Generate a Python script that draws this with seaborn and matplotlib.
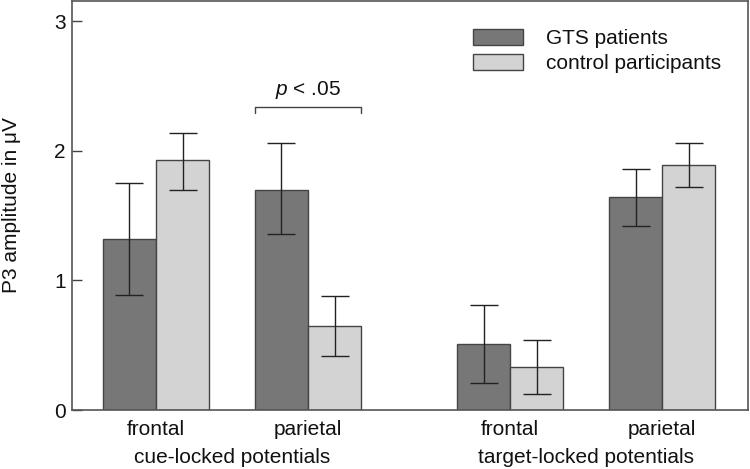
import numpy as np
import pandas as pd
import matplotlib
matplotlib.use("Agg")
import matplotlib.pyplot as plt
import seaborn as sns

# Daten
conditions = ["cue frontal", "cue parietal", "target frontal", "target parietal"]
tick_labels = ["frontal", "parietal", "frontal", "parietal"]
group_labels = ["cue-locked potentials", "target-locked potentials"]
groups = ["GTS patients", "control participants"]

gts_mean = [1.32, 1.70, 0.51, 1.64]
gts_lo = [0.89, 1.36, 0.21, 1.42]
gts_hi = [1.75, 2.06, 0.81, 1.86]

ctrl_mean = [1.93, 0.65, 0.33, 1.89]
ctrl_lo = [1.70, 0.42, 0.12, 1.72]
ctrl_hi = [2.14, 0.88, 0.54, 2.06]

sig_label = "$p$ < .05"
sig_height = 2.34

# Layout: x-Positionen der Bedingungen (Lücke zwischen den Blöcken)
x_pos = [0.0, 1.0, 2.33, 3.33]

sns.set_style("white")
plt.rcParams["font.family"] = ["Liberation Sans", "DejaVu Sans"]
plt.rcParams["font.size"] = 15
plt.rcParams["mathtext.fontset"] = "custom"
plt.rcParams["mathtext.it"] = "Liberation Sans:italic"
plt.rcParams["text.color"] = "#111111"
plt.rcParams["axes.labelcolor"] = "#111111"
plt.rcParams["xtick.labelcolor"] = "#111111"
plt.rcParams["ytick.labelcolor"] = "#111111"

df = pd.DataFrame({
    "pos": x_pos * 2,
    "amp": gts_mean + ctrl_mean,
    "group": [groups[0]] * 4 + [groups[1]] * 4,
})

fig = plt.figure(figsize=(7.5, 4.69), dpi=100)
ax = fig.add_axes([72 / 750, 59 / 469, 676 / 750, 409 / 469])

sns.barplot(data=df, x="pos", y="amp", hue="group", hue_order=groups,
            native_scale=True, width=0.7, errorbar=None,
            palette=["#777777", "#d3d3d3"], edgecolor="#444444",
            linewidth=1, ax=ax)

# Fehlerbalken an die Balkenmitten setzen
bar_sets = list(ax.containers)
lows = [gts_lo, ctrl_lo]
highs = [gts_hi, ctrl_hi]
for k, cont in enumerate(bar_sets):
    xs = [p.get_x() + p.get_width() / 2 for p in cont]
    ax.errorbar(xs, [(lo + hi) / 2 for lo, hi in zip(lows[k], highs[k])],
                yerr=[(hi - lo) / 2 for lo, hi in zip(lows[k], highs[k])],
                fmt="none", ecolor="#222222", elinewidth=1, capsize=9.8, capthick=1)

# Signifikanzklammer über parietal (cue-locked)
bx0 = bar_sets[0][1].get_x()
bx1 = bar_sets[1][1].get_x() + bar_sets[1][1].get_width()
ax.plot([bx0, bx0, bx1, bx1], [sig_height - 0.05, sig_height, sig_height, sig_height - 0.05],
        color="#444444", lw=1)
ax.text((bx0 + bx1) / 2, sig_height + 0.04, sig_label, ha="center", va="bottom", fontsize=15)

ax.set_ylim(0, 3.155)
ax.set_xlim(-0.553, 3.895)
ax.set_yticks([0, 1, 2, 3])
ax.set_yticklabels(["0", "1", "2", "3"])
ax.set_xticks(x_pos)
ax.set_xticklabels(tick_labels)
ax.tick_params(axis="y", direction="in", length=7.2, width=1, color="#444444", pad=4.5, left=True)
ax.tick_params(axis="x", length=0, pad=7)
ax.set_xlabel("")
ax.set_ylabel("P3 amplitude in μV", labelpad=24)

for s in ax.spines.values():
    s.set_color("#555555")
    s.set_linewidth(1.2)

trans = matplotlib.transforms.blended_transform_factory(ax.transData, ax.transAxes)
ax.text((x_pos[0] + x_pos[1]) / 2, -0.115, group_labels[0], transform=trans,
        ha="center", va="center", fontsize=15)
ax.text((x_pos[2] + x_pos[3]) / 2, -0.115, group_labels[1], transform=trans,
        ha="center", va="center", fontsize=15)

handles, labels = ax.get_legend_handles_labels()
ax.legend(handles, labels, loc="upper left", bbox_to_anchor=(0.593, 0.932),
          frameon=False, borderaxespad=0, borderpad=0, handlelength=2.4,
          handleheight=0.8, handletextpad=1.1, labelspacing=0.3, fontsize=15)

fig.savefig("out.png", dpi=100)
